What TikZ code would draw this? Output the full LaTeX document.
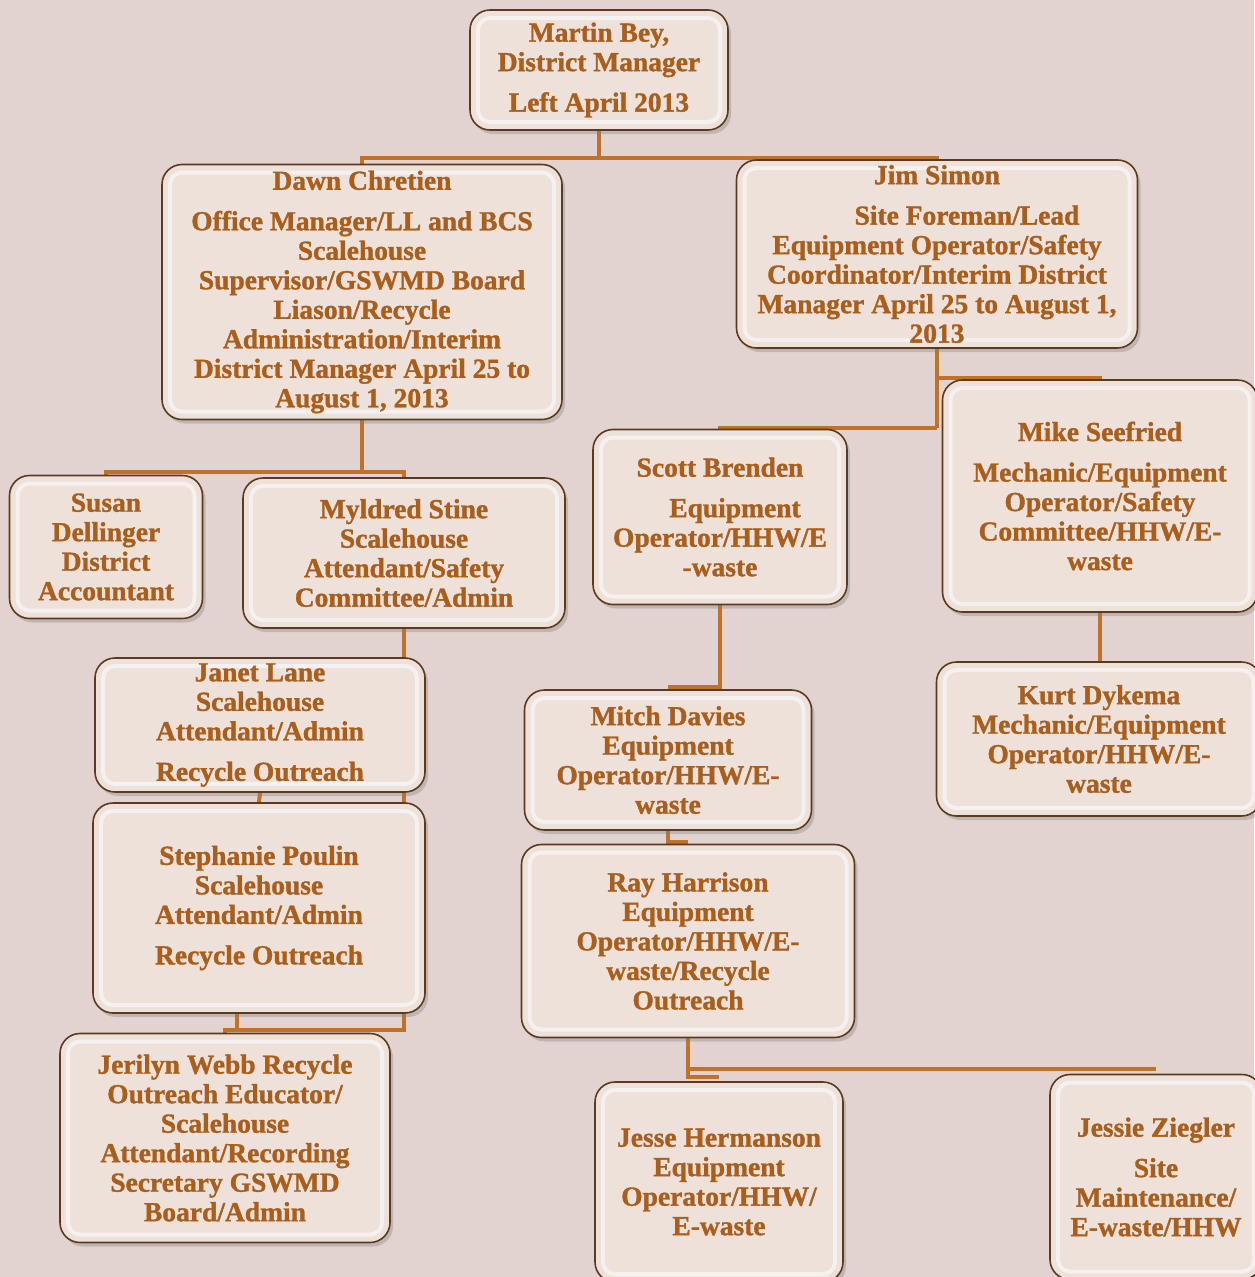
\documentclass[tikz,border=0pt]{standalone}
\usepackage{fontspec}
\setmainfont{Liberation Serif}[BoldFeatures={FakeBold=1.2}]
\usetikzlibrary{shadows}
\definecolor{bgc}{HTML}{E2D3D0}
\definecolor{boxfill}{HTML}{EDE1DA}
\definecolor{boxedge}{HTML}{5B3B1E}
\definecolor{linec}{HTML}{C0712A}
\definecolor{txtc}{HTML}{A95E1C}
\pgfdeclarelayer{back}
\pgfdeclarelayer{conn}
\pgfsetlayers{back,conn,main}
\begin{document}
\begin{tikzpicture}[x=1pt,y=-1pt,
  box/.style={draw=boxedge, line width=1.6pt, fill=boxfill, rounded corners=20pt,
    align=center, font=\bfseries\fontsize{27.5}{29.5}\selectfont, text=txtc, inner sep=4pt,
    drop shadow={shadow xshift=3pt, shadow yshift=-4pt, opacity=0.35},
    path picture={\draw[white, line width=4pt, opacity=0.55, rounded corners=12pt]
      ([shift={(8pt,8pt)}]path picture bounding box.south west) rectangle
      ([shift={(-8pt,-8pt)}]path picture bounding box.north east);}},
  conn/.style={draw=linec, line width=4pt}]
\useasboundingbox (0,0) rectangle (1254,1277);
\begin{pgfonlayer}{back}
  \fill[bgc] (0,0) rectangle (1254,1277);
\end{pgfonlayer}

\node[box, minimum width=258pt, minimum height=120pt] (martin) at (599,70)
  {Martin Bey,\\District Manager\\[11pt]Left April 2013};
\node[box, minimum width=400pt, minimum height=255pt] (dawn) at (362,292)
  {Dawn Chretien\\[11pt]Office Manager/LL and BCS\\Scalehouse\\Supervisor/GSWMD Board\\Liason/Recycle\\Administration/Interim\\District Manager April 25 to\\August 1, 2013};
\node[box, minimum width=401pt, minimum height=188pt] (jim) at (937,254)
  {Jim Simon\\[11pt]\hspace*{60pt}Site Foreman/Lead\\Equipment Operator/Safety\\Coordinator/Interim District\\Manager April 25 to August 1,\\2013};
\node[box, minimum width=193pt, minimum height=143pt] (susan) at (106,547)
  {Susan\\Dellinger\\District\\Accountant};
\node[box, minimum width=322pt, minimum height=150pt] (myldred) at (404,553)
  {Myldred Stine\\Scalehouse\\Attendant/Safety\\Committee/Admin};
\node[box, minimum width=254pt, minimum height=175pt] (scott) at (720,517)
  {Scott Brenden\\[11pt]\hspace*{30pt}Equipment\\Operator/HHW/E\\-waste};
\node[box, minimum width=315pt, minimum height=232pt] (mike) at (1100,496)
  {Mike Seefried\\[11pt]Mechanic/Equipment\\Operator/Safety\\Committee/HHW/E-\\waste};
\node[box, minimum width=325pt, minimum height=154pt] (kurt) at (1099,739)
  {Kurt Dykema\\Mechanic/Equipment\\Operator/HHW/E-\\waste};
\node[box, minimum width=330pt, minimum height=134pt] (janet) at (260,725)
  {Janet Lane\\Scalehouse\\Attendant/Admin\\[11pt]Recycle Outreach};
\node[box, minimum width=332pt, minimum height=210pt] (steph) at (259,908)
  {Stephanie Poulin\\Scalehouse\\Attendant/Admin\\[11pt]Recycle Outreach};
\node[box, minimum width=287pt, minimum height=140pt] (mitch) at (668,760)
  {Mitch Davies\\Equipment\\Operator/HHW/E-\\waste};
\node[box, minimum width=333pt, minimum height=193pt] (ray) at (688,941)
  {Ray Harrison\\Equipment\\Operator/HHW/E-\\waste/Recycle\\Outreach};
\node[box, minimum width=330pt, minimum height=209pt] (jerilyn) at (225,1138)
  {Jerilyn Webb Recycle\\Outreach Educator/\\Scalehouse\\Attendant/Recording\\Secretary GSWMD\\Board/Admin};
\node[box, minimum width=248pt, minimum height=200pt] (jesseh) at (719,1182)
  {Jesse Hermanson\\Equipment\\Operator/HHW/\\E-waste};
\node[box, minimum width=212pt, minimum height=205pt] (jessiez) at (1156,1177)
  {Jessie Ziegler\\[11pt]Site\\Maintenance/\\E-waste/HHW};

\begin{pgfonlayer}{conn}
  \coordinate (j1) at (599,158);
  \draw[conn] (martin.south) -- (j1);
  \draw[conn] (dawn.north) |- (j1);
  \draw[conn] (jim.north) |- (j1);
  \coordinate (j2) at (362,472);
  \draw[conn] (dawn.south) -- (j2);
  \draw[conn] (susan.north) |- (j2);
  \draw[conn] (myldred.north) |- (j2);
  \coordinate (j3) at (404,1030);
  \draw[conn] (myldred.south) -- (j3) -| (jerilyn.north);
  \draw[conn] (janet.south) -- (steph.north);
  \draw[conn] ([xshift=-22pt]steph.south) -- ([xshift=-22pt]steph.south |- j3);
  \coordinate (j4) at (937,378);
  \coordinate (j5) at (937,428);
  \draw[conn] (jim.south) -- (j5);
  \draw[conn] (j4) -| (mike.north);
  \draw[conn] (j5) -| (scott.north);
  \draw[conn] (scott.south) |- ([yshift=2pt]mitch.north);
  \draw[conn] (mitch.south) |- ([yshift=2pt]ray.north);
  \draw[conn] (mike.south) -- (mike.south |- kurt.north);
  \draw[conn] (ray.south) |- ([yshift=4pt]jesseh.north);
  \draw[conn] (ray.south) |- ([yshift=5pt]jessiez.north);
\end{pgfonlayer}
\end{tikzpicture}
\end{document}
